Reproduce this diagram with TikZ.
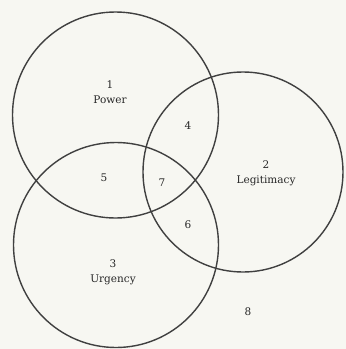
\documentclass[tikz,border=0pt]{standalone}
\usepackage{fontspec}
\setmainfont{DejaVu Serif}
\begin{document}
\begin{tikzpicture}[x=1pt,y=-1pt,
  ring/.style={draw=black!75,line width=1.4pt},
  lbl/.style={inner sep=0pt,font=\fontsize{10.5}{15}\selectfont,text=black!85,align=center}]
\fill[fill={rgb,255:red,247;green,247;blue,242}] (0,0) rectangle (346,349);
\useasboundingbox (0,0) rectangle (346,349);
\node[ring,circle,minimum size=206pt,inner sep=0pt] (power) at (115.5,115) {};
\node[ring,circle,minimum size=200pt,inner sep=0pt] (legit) at (243,172) {};
\node[ring,circle,minimum size=205pt,inner sep=0pt] (urg) at (116,245) {};
\node[lbl] (l1) at (110,92) {1\\Power};
\node[lbl] (l2) at (266,173) {2\\Legitimacy};
\node[lbl] (l3) at (113,272) {3\\Urgency};
\node[lbl] (l4) at (188,126) {4};
\node[lbl] (l5) at (104,178) {5};
\node[lbl] (l6) at (188,225) {6};
\node[lbl] (l7) at (162,183) {7};
\node[lbl] (l8) at (248,312) {8};
\end{tikzpicture}
\end{document}
